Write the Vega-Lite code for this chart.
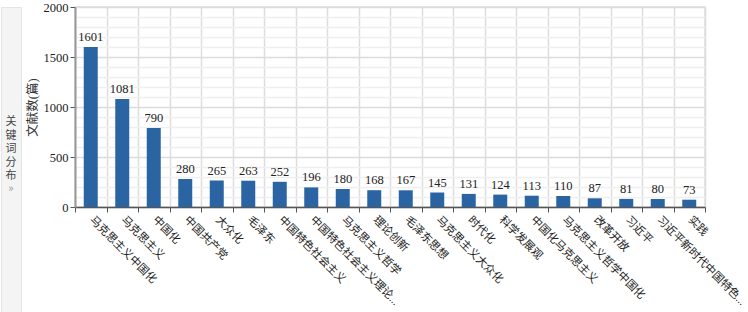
{
  "$schema": "https://vega.github.io/schema/vega-lite/v6.json",
  "padding": 0,
  "spacing": 3,
  "background": "white",
  "config": {
    "font": "Liberation Serif, Noto Sans CJK SC"
  },
  "datasets": {
    "kw": [
      {"keyword": "马克思主义中国化", "count": 1601},
      {"keyword": "马克思主义", "count": 1081},
      {"keyword": "中国化", "count": 790},
      {"keyword": "中国共产党", "count": 280},
      {"keyword": "大众化", "count": 265},
      {"keyword": "毛泽东", "count": 263},
      {"keyword": "中国特色社会主义", "count": 252},
      {"keyword": "中国特色社会主义理论...", "count": 196},
      {"keyword": "马克思主义哲学", "count": 180},
      {"keyword": "理论创新", "count": 168},
      {"keyword": "毛泽东思想", "count": 167},
      {"keyword": "马克思主义大众化", "count": 145},
      {"keyword": "时代化", "count": 131},
      {"keyword": "科学发展观", "count": 124},
      {"keyword": "中国化马克思主义", "count": 113},
      {"keyword": "马克思主义哲学中国化", "count": 110},
      {"keyword": "改革开放", "count": 87},
      {"keyword": "习近平", "count": 81},
      {"keyword": "习近平新时代中国特色...", "count": 80},
      {"keyword": "实践", "count": 73}
    ],
    "side": [
      {"ch": "关", "pos": 1, "kind": "text"},
      {"ch": "键", "pos": 2, "kind": "text"},
      {"ch": "词", "pos": 3, "kind": "text"},
      {"ch": "分", "pos": 4, "kind": "text"},
      {"ch": "布", "pos": 5, "kind": "text"},
      {"ch": "»", "pos": 5.95, "kind": "arrow"}
    ]
  },
  "hconcat": [
    {
      "width": 20,
      "height": 312,
      "view": {"fill": "#f4f4f4", "stroke": "#e4e4e4"},
      "data": {"name": "side"},
      "mark": {"type": "text", "fontSize": 11, "font": "Noto Sans CJK SC", "baseline": "middle"},
      "encoding": {
        "y": {"field": "pos", "type": "quantitative", "axis": null, "scale": {"domain": [-7.52, 15.59], "nice": false, "zero": false, "reverse": true}},
        "text": {"field": "ch"},
        "color": {"field": "kind", "type": "nominal", "legend": null, "scale": {"domain": ["text", "arrow"], "range": ["#444444", "#999999"]}}
      }
    },
    {
      "width": 630,
      "height": 200,
      "view": {"stroke": "#dddddd", "strokeWidth": 1.5},
      "data": {"name": "kw"},
      "encoding": {
        "x": {
          "field": "keyword",
          "type": "nominal",
          "sort": null,
          "scale": {"paddingInner": 0, "paddingOuter": 0},
          "axis": {
            "title": null,
            "tickBand": "extent",
            "grid": true,
            "gridColor": "#dcdcdc",
            "gridWidth": 1.5,
            "domainColor": "#555",
            "domainWidth": 1.5,
            "tickColor": "#555",
            "tickSize": 5,
            "labelAngle": 45,
            "labelAlign": "left",
            "labelBaseline": "middle",
            "labelFontSize": 11.2,
            "labelColor": "#222",
            "labelPadding": 6,
            "labelLimit": 300
          }
        }
      },
      "layer": [
        {
          "mark": {"type": "bar", "size": 14, "color": "#2a64a3"},
          "encoding": {
            "y": {
              "field": "count",
              "type": "quantitative",
              "scale": {"domain": [0, 2000], "nice": false},
              "axis": {
                "orient": "right",
                "values": [100,200,300,400,600,700,800,900,1100,1200,1300,1400,1600,1700,1800,1900],
                "grid": true,
                "gridColor": "#efefef",
                "gridWidth": 1.5,
                "labels": false,
                "ticks": false,
                "domain": false,
                "title": null
              }
            }
          }
        },
        {
          "mark": {"type": "text", "baseline": "bottom", "dy": -3, "fontSize": 12.5, "color": "#222"},
          "encoding": {
            "y": {
              "field": "count",
              "type": "quantitative",
              "axis": {
                "orient": "left",
                "values": [0, 500, 1000, 1500, 2000],
                "format": "d",
                "grid": true,
                "gridColor": "#dcdcdc",
                "gridWidth": 1.5,
                "domainColor": "#999",
                "domainWidth": 2,
                "tickColor": "#555",
                "tickSize": 5,
                "labelFontSize": 12.5,
                "labelColor": "#222",
                "labelPadding": 2,
                "title": "文献数(篇)",
                "titleFontSize": 12.5,
                "titleFontWeight": "normal",
                "titleColor": "#333",
                "titlePadding": 4
              }
            },
            "text": {"field": "count", "type": "quantitative"}
          }
        }
      ],
      "resolve": {"axis": {"y": "independent"}}
    }
  ]
}
